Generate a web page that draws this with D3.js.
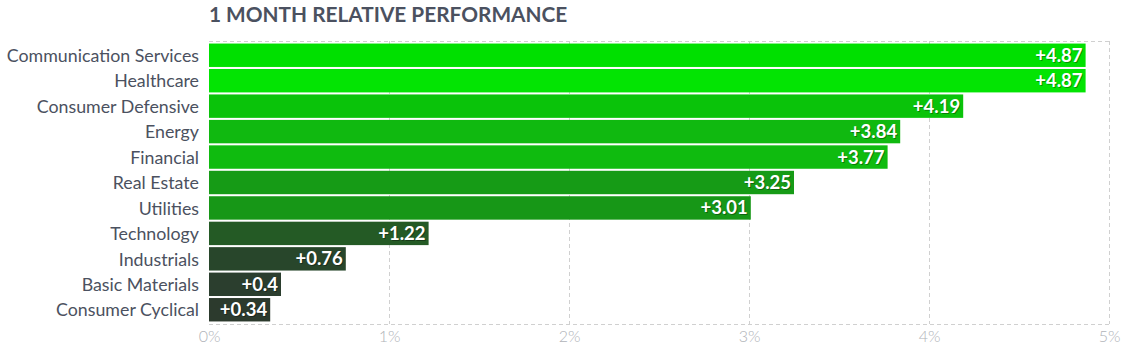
<!DOCTYPE html>
<html>
<head>
<meta charset="utf-8">
<script src="https://cdn.jsdelivr.net/npm/d3@7"></script>
<style>
  body { margin: 0; background: #fff; }
  text { font-family: Lato, "Open Sans", sans-serif; }
</style>
</head>
<body>
<div id="chart"></div>
<script>
// Sectors, top to bottom
var sectors = ["Communication Services", "Healthcare", "Consumer Defensive", "Energy", "Financial",
               "Real Estate", "Utilities", "Technology", "Industrials", "Basic Materials", "Consumer Cyclical"];
var values = [4.87, 4.87, 4.19, 3.84, 3.77, 3.25, 3.01, 1.22, 0.76, 0.4, 0.34];
var valueLabels = ["+4.87", "+4.87", "+4.19", "+3.84", "+3.77", "+3.25", "+3.01", "+1.22", "+0.76", "+0.4", "+0.34"];
var barColors = ["#00e000", "#03e403", "#0ac30a", "#10b910", "#0fbb0f", "#169b16", "#179717",
                 "#245a25", "#28462b", "#2b3e2e", "#2c3a2d"];
var xTicks = [0, 1, 2, 3, 4, 5];
var title = "1 MONTH RELATIVE PERFORMANCE";

(function() {
  var W = 1131, H = 352;
  var margin = {top: 41, right: 22, bottom: 28, left: 209};
  var width = W - margin.left - margin.right,
      height = H - margin.top - margin.bottom;

  var svg = d3.select("#chart").append("svg")
      .attr("width", W)
      .attr("height", H);

  // title
  svg.append("text")
    .attr("x", margin.left)
    .attr("y", 22)
    .attr("fill", "#4b5160")
    .style("font-size", "20.8px")
    .style("font-weight", "bold")
    .text(title);

  var g = svg.append("g")
    .attr("transform", "translate(" + margin.left + "," + margin.top + ")");

  var x = d3.scaleLinear().domain([0, 5]).range([0, width]);
  var y = d3.scaleBand().domain(sectors).range([0, height])
    .paddingInner(0.08).paddingOuter(0.1);

  // grid: vertical dashed lines
  g.selectAll(".vgrid")
    .data(xTicks.slice(1))
    .enter().append("line")
      .attr("class", "vgrid")
      .attr("x1", function(d) { return x(d) + 0.5; })
      .attr("x2", function(d) { return x(d) + 0.5; })
      .attr("y1", 0)
      .attr("y2", height)
      .attr("stroke", "#d0d0d0")
      .attr("stroke-dasharray", "4,3");

  // top and bottom dashed lines
  g.selectAll(".hgrid")
    .data([0, height])
    .enter().append("line")
      .attr("class", "hgrid")
      .attr("x1", 0)
      .attr("x2", width)
      .attr("y1", function(d) { return d + 0.5; })
      .attr("y2", function(d) { return d + 0.5; })
      .attr("stroke", "#d0d0d0")
      .attr("stroke-dasharray", "4,3");

  // x axis tick labels
  var xAxis = g.append("g")
    .attr("transform", "translate(0," + height + ")")
    .call(d3.axisBottom(x).tickValues(xTicks).tickSize(0).tickPadding(7)
      .tickFormat(function(d) { return d + "%"; }));
  xAxis.select(".domain").remove();
  xAxis.selectAll("text")
    .attr("fill", "#b0b3b8")
    .style("font-size", "16px")
    .style("font-weight", "300")
    .style("font-family", "Lato, sans-serif");

  // y axis labels
  var yAxis = g.append("g")
    .call(d3.axisLeft(y).tickSize(0).tickPadding(10));
  yAxis.select(".domain").remove();
  yAxis.selectAll("text")
    .attr("y", 1)
    .attr("fill", "#4b5160")
    .style("font-size", "17.8px")
    .style("font-family", "Lato, sans-serif");

  var rows = sectors.map(function(s, i) {
    return {name: s, value: values[i], label: valueLabels[i], color: barColors[i]};
  });

  // bars
  g.selectAll(".bar")
    .data(rows)
    .enter().append("rect")
      .attr("class", "bar")
      .attr("x", x(0))
      .attr("y", function(d) { return y(d.name); })
      .attr("width", function(d) { return x(d.value) - x(0); })
      .attr("height", y.bandwidth())
      .attr("fill", function(d) { return d.color; });

  // value labels with slight shadow
  var labels = g.selectAll(".val")
    .data(rows)
    .enter().append("g").attr("class", "val");

  labels.append("text")
    .attr("x", function(d) { return x(d.value) - 2; })
    .attr("y", function(d) { return y(d.name) + y.bandwidth() / 2 + 1; })
    .attr("dy", "0.35em")
    .attr("text-anchor", "end")
    .attr("fill", "rgba(0,0,0,0.35)")
    .style("font-size", "18.5px")
    .style("font-weight", "bold")
    .text(function(d) { return d.label; });

  labels.append("text")
    .attr("x", function(d) { return x(d.value) - 3; })
    .attr("y", function(d) { return y(d.name) + y.bandwidth() / 2; })
    .attr("dy", "0.35em")
    .attr("text-anchor", "end")
    .attr("fill", "#fff")
    .style("font-size", "18.5px")
    .style("font-weight", "bold")
    .text(function(d) { return d.label; });
})();
</script>
</body>
</html>
